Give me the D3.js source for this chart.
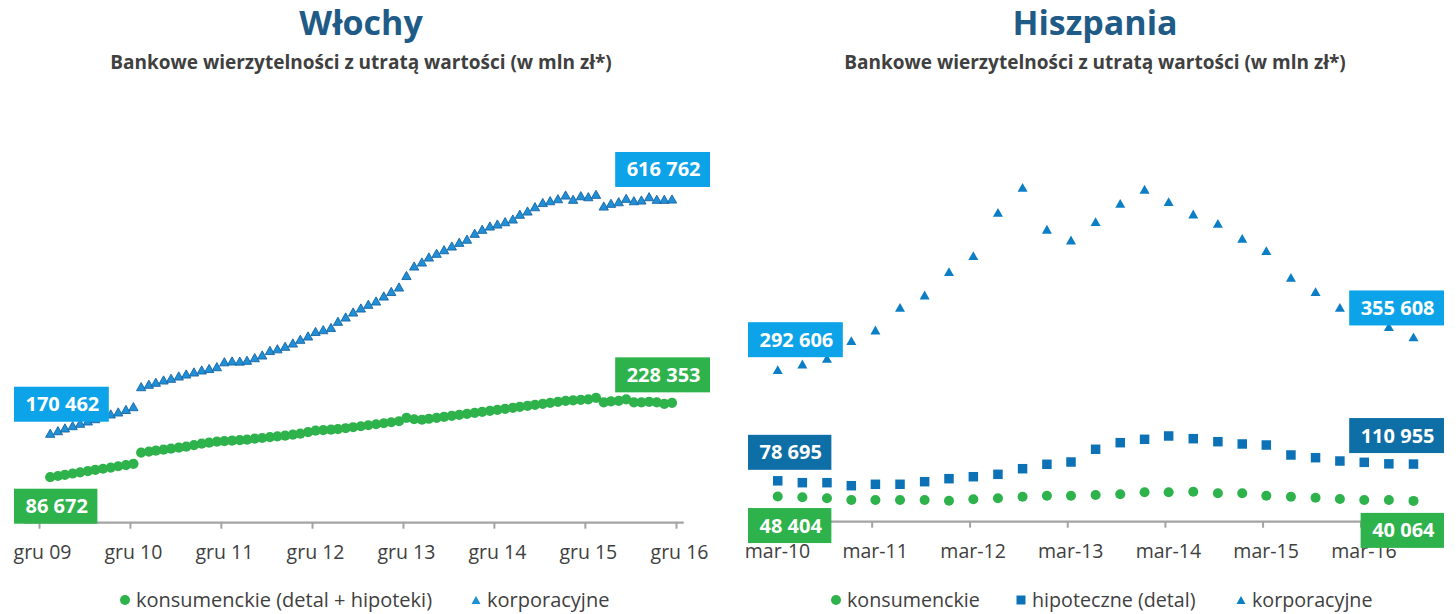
<!DOCTYPE html>
<html>
<head>
<meta charset="utf-8">
<script src="https://cdn.jsdelivr.net/npm/d3@7"></script>
<style>
  body { margin: 0; background: #fff; }
  svg { display: block; font-family: "Open Sans", sans-serif; }
</style>
</head>
<body>
<script>
// ===== Data =====

// Italy: monthly, Jan 2010 .. Nov 2016 (mln zl)
const itStart = new Date(2010, 0, 15);
const itConsumer = [86672, 88950, 91220, 93690, 95970, 98240, 100520, 102790, 105070, 107540, 109810, 112090,
  133520, 135420, 137310, 139210, 141110, 143000, 144900, 147750, 150590, 152490, 154380,
  155330, 156280, 157230, 158180, 160070, 161400, 162920, 164440, 165760, 167660, 169560,
  172400, 175250, 176200, 177150, 178470, 179990, 181890, 183780, 185680, 187580, 189470,
  191370, 193270, 199900, 197060, 196110, 198010, 199900, 201800, 203700, 205590, 207490,
  209390, 211290, 213180, 215080, 216980, 218870, 220770, 222670, 224560, 226460, 228360,
  230250, 232150, 233100, 234050, 234990, 237840, 229300, 231200, 232150, 234990, 229300,
  229300, 230250, 229300, 226460, 228353];
const itCorporate = [170462, 175400, 180560, 184940, 189510, 193890, 198270, 202840, 207230, 211030, 215800, 221130,
  259230, 263800, 267600, 271990, 275230, 279610, 283420, 287230, 291040, 293890, 297320,
  306660, 308200, 308000, 309500, 314470, 319610, 328180, 331420, 336180, 342470, 349510,
  355800, 364370, 367800, 371990, 383800, 391990, 401510, 409130, 416180, 422470, 431990,
  440560, 449130, 471040, 489130, 496750, 506280, 513330, 520180, 527230, 534280, 540180,
  551420, 559040, 565330, 569140, 573520, 578660, 587800, 593900, 602090, 610090, 613520,
  617330, 624380, 616190, 623040, 621140, 625710, 603420, 608570, 611610, 618090, 613520,
  614850, 621140, 616190, 616190, 616762];
const itTickLabels = ["gru 09", "gru 10", "gru 11", "gru 12", "gru 13", "gru 14", "gru 15", "gru 16"];

// Spain: quarterly, Mar 2010 .. Sep 2016 (mln zl)
const esStart = new Date(2010, 2, 15);
const esConsumer = [48404, 47000, 45000, 41800, 41800, 41800, 41800, 40400, 43100, 45000, 48100, 50000, 50000,
  51400, 52700, 56600, 56600, 57800, 54700, 54700, 50000, 48100, 46200, 43700, 41800, 41800, 40064];
const esMortgage = [78695, 75100, 75100, 69300, 72000, 72000, 77000, 82800, 86600, 91200, 102000, 110500, 114900,
  139400, 152100, 158600, 165000, 159800, 154000, 149600, 147600, 128400, 123200, 116800, 114300, 111400, 110955];
const esCorporate = [292606, 303600, 314500, 348400, 369000, 412700, 436400, 481300, 512000, 595600, 643700, 562900, 542300,
  577500, 612900, 639900, 616000, 592300, 574400, 545500, 521700, 470500, 442800, 412700, 396000, 375400, 355608];
const esTickLabels = ["mar-10", "mar-11", "mar-12", "mar-13", "mar-14", "mar-15", "mar-16"];

const subtitle = "Bankowe wierzytelności z utratą wartości (w mln zł*)";

// ===== Styles =====
const GREEN = "#2eb24b", LIGHTBLUE = "#0ca3e9", DARKBLUE = "#0e6ea6";
const TEXT = "#404040", AXIS = "#a3a3a3", TITLE = "#1e5b87";

const svg = d3.select("body").append("svg")
    .attr("width", 1456)
    .attr("height", 614);

// triangle path centred on its bounding box
function triPath(w, h) {
    return `M0,${-h/2}L${w/2},${h/2}L${-w/2},${h/2}Z`;
}

function markerPath(type, s) {
    if (type === "circle") return d3.symbol().type(d3.symbolCircle).size(Math.PI * s * s / 4)();
    if (type === "square") return d3.symbol().type(d3.symbolSquare).size(s * s)();
    return triPath(s, s * 0.88);
}

function drawPanel(p) {
    const g = svg.append("g");

    // Scales
    let x = d3.scaleTime()
        .domain([p.tickDates[0], p.tickDates[p.tickDates.length - 1]])
        .range(p.xRange);
    let y = d3.scaleLinear().domain([0, 800000]).range(p.yRange);

    // Titles
    g.append("text")
        .attr("x", p.cx).attr("y", 35)
        .attr("text-anchor", "middle")
        .style("font-size", "34px").style("font-weight", "bold")
        .style("fill", TITLE)
        .text(p.title);
    g.append("text")
        .attr("x", p.cx).attr("y", 69)
        .attr("text-anchor", "middle")
        .style("font-size", "19px").style("font-weight", "bold")
        .style("fill", TEXT)
        .text(subtitle);

    // Axis
    let axis = d3.axisBottom(x)
        .tickValues(p.tickDates)
        .tickFormat((d, i) => p.tickLabels[i])
        .tickSize(6)
        .tickSizeOuter(0)
        .tickPadding(16);
    let ag = g.append("g")
        .attr("transform", `translate(0, ${p.yRange[0]})`)
        .call(axis);
    ag.select(".domain").remove();
    ag.insert("line", ":first-child")
        .attr("x1", x(p.axisFrom)).attr("x2", x(p.axisTo))
        .attr("stroke", AXIS).attr("stroke-width", 2.2);
    ag.selectAll(".tick line").attr("stroke", AXIS).attr("stroke-width", 2);
    ag.selectAll(".tick text")
        .attr("dx", 3)
        .style("font-size", "19.5px")
        .style("font-family", "Open Sans")
        .style("fill", TEXT);

    // Series
    for (let s of p.series) {
        let dates = s.values.map((v, i) => p.dateOf(i));
        g.append("g").selectAll("path")
            .data(s.values)
            .enter()
            .append("path")
            .attr("d", markerPath(s.shape, s.size))
            .attr("transform", (d, i) => `translate(${x(dates[i])}, ${y(d)})`)
            .style("fill", s.colour)
            .style("stroke", s.stroke || "none")
            .style("stroke-width", s.stroke ? 0.9 : 0);
    }

    // Value labels (first and last point)
    for (let s of p.series) {
        for (let end of ["first", "last"]) {
            let i = end === "first" ? 0 : s.values.length - 1;
            let v = s.values[i];
            let cy = y(v) + s.labelOffset[end];
            let lg = g.append("g");
            let t = lg.append("text")
                .attr("text-anchor", "middle")
                .style("font-size", "20px").style("font-weight", "bold")
                .style("fill", "#fff")
                .text(d3.format(",")(v).replace(/,/g, " "));
            let w = t.node().getComputedTextLength() + 21;
            let bx = end === "first" ? p.boxLeft : p.boxRight - w;
            lg.insert("rect", "text")
                .attr("x", bx).attr("y", cy - 17.5)
                .attr("width", w).attr("height", 35)
                .style("fill", s.box);
            t.attr("x", bx + w/2 + 1).attr("y", cy + 7);
        }
    }

    // Legend
    for (let item of p.legend) {
        let s = p.series[item.s];
        g.append("path")
            .attr("d", markerPath(s.shape, item.size))
            .attr("transform", `translate(${item.x}, 600)`)
            .style("fill", s.colour);
        g.append("text")
            .attr("x", item.x + 11).attr("y", 607)
            .style("font-size", p.legendFont)
            .style("fill", TEXT)
            .text(s.name);
    }
}

// Italy
drawPanel({
    title: "Włochy", cx: 361,
    tickDates: d3.range(itTickLabels.length).map(k => new Date(2009 + k, 11, 1)),
    tickLabels: itTickLabels,
    xRange: [39, 676], yRange: [522.7, 102.8],
    axisFrom: new Date(2009, 9, 1), axisTo: new Date(2017, 0, 1),
    dateOf: i => new Date(itStart.getFullYear(), itStart.getMonth() + i, 15),
    boxLeft: 14, boxRight: 710,
    legendFont: "20px",
    series: [
        { name: "konsumenckie (detal + hipoteki)", values: itConsumer, shape: "circle", size: 10.2,
          colour: GREEN, box: GREEN, labelOffset: { first: 29, last: -28 } },
        { name: "korporacyjne", values: itCorporate, shape: "triangle", size: 9.3,
          colour: "#1f8fd6", stroke: "#1764a3", box: LIGHTBLUE, labelOffset: { first: -29, last: -29.5 } }
    ],
    legend: [ { s: 0, x: 125, size: 10 }, { s: 1, x: 476, size: 9 } ]
});

// Spain
drawPanel({
    title: "Hiszpania", cx: 1095,
    tickDates: d3.range(esTickLabels.length).map(k => new Date(2010 + k, 2, 1)),
    tickLabels: esTickLabels,
    xRange: [774, 1360.5], yRange: [521.7, 106.1],
    axisFrom: new Date(2010, 0, 1), axisTo: new Date(2016, 11, 1),
    dateOf: i => new Date(esStart.getFullYear(), esStart.getMonth() + 3 * i, 15),
    boxLeft: 748, boxRight: 1444,
    legendFont: "19.7px",
    series: [
        { name: "konsumenckie", values: esConsumer, shape: "circle", size: 10,
          colour: GREEN, box: GREEN, labelOffset: { first: 29, last: 29.5 } },
        { name: "hipoteczne (detal)", values: esMortgage, shape: "square", size: 9.5,
          colour: "#0c72b5", box: DARKBLUE, labelOffset: { first: -28.5, last: -28.5 } },
        { name: "korporacyjne", values: esCorporate, shape: "triangle", size: 10,
          colour: "#0b7ec6", box: LIGHTBLUE, labelOffset: { first: -30, last: -29 } }
    ],
    legend: [ { s: 0, x: 836, size: 10 }, { s: 1, x: 1021, size: 9 }, { s: 2, x: 1241, size: 9 } ]
});
</script>
</body>
</html>
